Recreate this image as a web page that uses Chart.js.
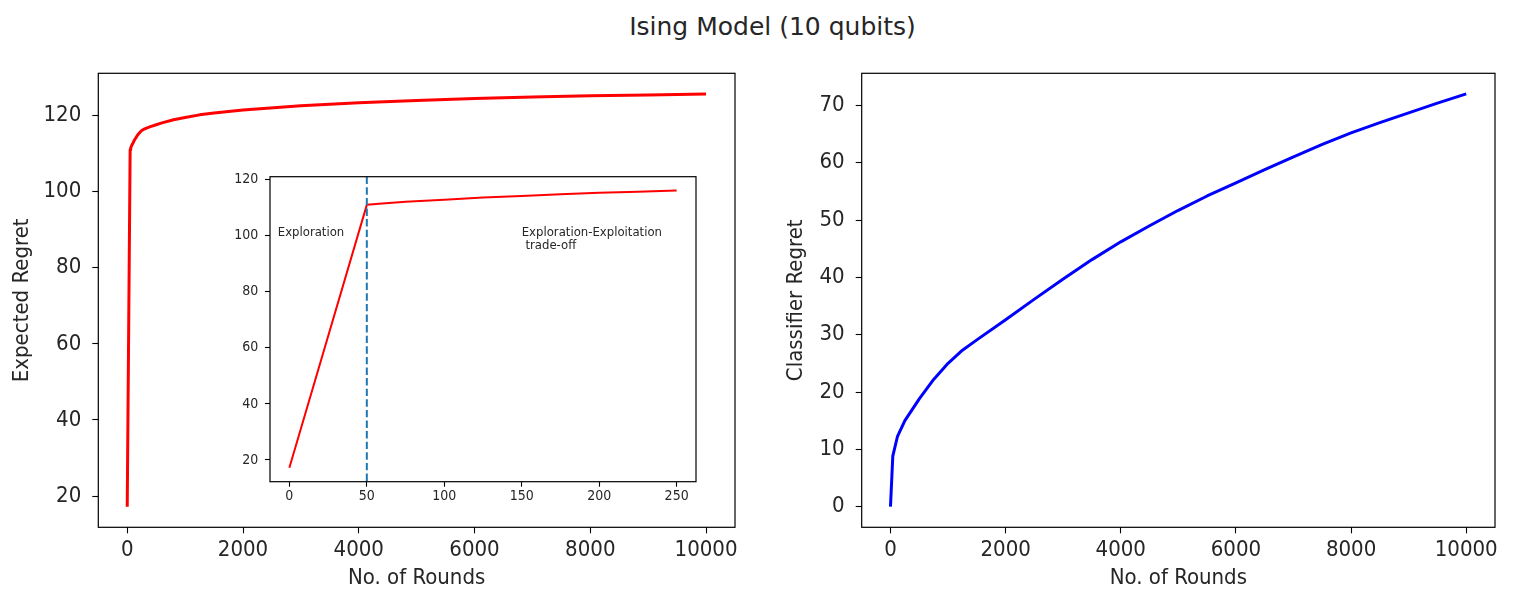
<!DOCTYPE html>
<html>
<head>
<meta charset="utf-8">
<script src="https://cdn.jsdelivr.net/npm/chart.js@4.4.1/dist/chart.umd.min.js"></script>
<style>
  html, body { margin: 0; padding: 0; background: #ffffff; }
  #wrap { position: relative; width: 1515px; height: 606px; overflow: hidden; background: #ffffff; }
  canvas { position: absolute; }
  #title { position: absolute; top: 12px; left: 772.5px; transform: translateX(-50%);
           font-family: "DejaVu Sans"; font-size: 25px; line-height: 30px; color: #262626; white-space: nowrap; }
</style>
</head>
<body>
<div id="wrap">
  <div id="title"></div>
  <canvas id="leftChart" width="760" height="546" style="left:0px;top:60px"></canvas>
  <canvas id="rightChart" width="755" height="546" style="left:760px;top:60px"></canvas>
  <canvas id="insetChart" width="480" height="340" style="left:230px;top:170px"></canvas>
</div>
<script>
// ---------------- data ----------------
const figureTitle = "Ising Model (10 qubits)";

const roundsExpected = [0, 50, 60, 75, 100, 125, 150, 175, 200, 225, 250, 300, 400, 500, 600, 800, 1000, 1250, 1500, 2000, 3000, 4000, 5000, 6000, 7000, 8000, 9000, 10000];
const expectedRegret = [17.2, 111.0, 111.5, 112.1, 112.8, 113.6, 114.2, 114.8, 115.3, 115.7, 116.1, 116.5, 117.1, 117.6, 118.1, 118.9, 119.5, 120.2, 120.7, 121.5, 122.6, 123.4, 124.0, 124.5, 124.9, 125.2, 125.4, 125.7];

const roundsClassifier = [0, 40, 120, 250, 500, 750, 1000, 1250, 1500, 2000, 2500, 3000, 3500, 4000, 4500, 5000, 5500, 6000, 6500, 7000, 7500, 8000, 8500, 9000, 9500, 10000];
const classifierRegret = [0, 8.8, 12.2, 15.0, 18.8, 22.2, 25.0, 27.3, 29.1, 32.6, 36.2, 39.7, 43.1, 46.2, 49.0, 51.7, 54.2, 56.5, 58.8, 61.0, 63.2, 65.2, 67.0, 68.7, 70.4, 72.0];

const xTicksMain = [0, 2000, 4000, 6000, 8000, 10000];
const yTicksExpected = [20, 40, 60, 80, 100, 120];
const yTicksClassifier = [0, 10, 20, 30, 40, 50, 60, 70];
const xTicksInset = [0, 50, 100, 150, 200, 250];
const yTicksInset = [20, 40, 60, 80, 100, 120];

const insetLastRound = 250;
const explorationEnd = 50;
const annotationLines = [["Exploration"], ["Exploration-Exploitation", " trade-off"]];
const annotationX = [-7.5, 150];
const annotationY = [100, 100];

const xLabel = "No. of Rounds";
const yLabelLeft = "Expected Regret";
const yLabelRight = "Classifier Regret";

// ---------------- helpers ----------------
document.getElementById('title').textContent = figureTitle;

const FONT = '"DejaVu Sans Condensed", "DejaVu Sans"';
const TXT = '#262626';

function withMargin(vals, frac) {
  const mn = Math.min(...vals), mx = Math.max(...vals);
  const d = (mx - mn) * frac;
  return [mn - d, mx + d];
}

function axis(range, ticks, o) {
  return {
    type: 'linear',
    min: range[0], max: range[1],
    afterBuildTicks: s => { s.ticks = ticks.map(v => ({ value: v })); },
    afterFit: s => {
      if (o.width != null) s.width = o.width;
      if (o.height != null) s.height = o.height;
      s.paddingLeft = 0; s.paddingRight = 0; s.paddingTop = 0; s.paddingBottom = 0;
    },
    grid: { display: true, drawOnChartArea: false, drawTicks: true, tickLength: o.tl, tickColor: '#000', tickWidth: 1.1 },
    border: { display: false },
    ticks: { color: TXT, font: { family: FONT, size: o.fs }, padding: o.pad, maxRotation: 0, minRotation: 0, autoSkip: false,
             callback: v => String(v) },
    title: { display: !!o.title, text: o.title || '', color: TXT, font: { family: FONT, size: o.tfs || o.fs },
             padding: o.tpad || 0 }
  };
}

const framePlugin = {
  id: 'frame',
  beforeDraw(chart) {
    const a = chart.chartArea, ctx = chart.ctx;
    ctx.save(); ctx.fillStyle = '#ffffff';
    ctx.fillRect(a.left, a.top, a.right - a.left, a.bottom - a.top);
    ctx.restore();
  },
  afterDraw(chart) {
    const a = chart.chartArea, ctx = chart.ctx;
    ctx.save(); ctx.strokeStyle = '#000'; ctx.lineWidth = 1.2;
    ctx.strokeRect(a.left, a.top, a.right - a.left, a.bottom - a.top);
    ctx.restore();
  }
};

function series(xs, ys) { return xs.map((x, i) => ({ x: x, y: ys[i] })); }

const common = {
  responsive: false, animation: false, devicePixelRatio: 1,
  plugins: { legend: { display: false }, tooltip: { enabled: false }, title: { display: false } },
  elements: { point: { radius: 0 }, line: { tension: 0, borderJoinStyle: 'round' } }
};

// ---------------- left chart ----------------
new Chart(document.getElementById('leftChart'), {
  type: 'line',
  data: { datasets: [{ data: series(roundsExpected, expectedRegret), borderColor: '#ff0000', borderWidth: 3, fill: false }] },
  options: Object.assign({}, common, {
    layout: { padding: { left: 0, top: 13.3, right: 25, bottom: 0 } },
    scales: {
      x: axis(withMargin(roundsExpected, 0.05), xTicksMain, { height: 78.7, tl: 6, fs: 22, pad: 4, title: xLabel, tpad: { top: 0, bottom: 14.8 } }),
      y: axis(withMargin(expectedRegret, 0.05), yTicksExpected, { width: 98.3, tl: 6, fs: 22, pad: 11, title: yLabelLeft, tpad: { top: 8.8, bottom: 0 } })
    }
  }),
  plugins: [framePlugin]
});

// ---------------- right chart ----------------
new Chart(document.getElementById('rightChart'), {
  type: 'line',
  data: { datasets: [{ data: series(roundsClassifier, classifierRegret), borderColor: '#0000ff', borderWidth: 3, fill: false }] },
  options: Object.assign({}, common, {
    layout: { padding: { left: 0, top: 13.3, right: 20, bottom: 0 } },
    scales: {
      x: axis(withMargin(roundsClassifier, 0.05), xTicksMain, { height: 78.7, tl: 6, fs: 22, pad: 4, title: xLabel, tpad: { top: 0, bottom: 14.8 } }),
      y: axis(withMargin(classifierRegret, 0.05), yTicksClassifier, { width: 101.7, tl: 6, fs: 22, pad: 11, title: yLabelRight, tpad: { top: 23.3, bottom: 0 } })
    }
  }),
  plugins: [framePlugin]
});

// ---------------- inset chart ----------------
const insetX = roundsExpected.filter(x => x <= insetLastRound);
const insetY = expectedRegret.slice(0, insetX.length);

const insetExtras = {
  id: 'insetExtras',
  afterDatasetsDraw(chart) {
    const ctx = chart.ctx, a = chart.chartArea, xs = chart.scales.x;
    const px = xs.getPixelForValue(explorationEnd);
    ctx.save();
    ctx.strokeStyle = '#1f77b4'; ctx.lineWidth = 2; ctx.setLineDash([7.4, 3.2]);
    ctx.beginPath(); ctx.moveTo(px, a.top); ctx.lineTo(px, a.bottom); ctx.stroke();
    ctx.restore();
  },
  afterDraw(chart) {
    const ctx = chart.ctx, xs = chart.scales.x, ys = chart.scales.y;
    ctx.save();
    ctx.fillStyle = TXT; ctx.font = '13px ' + FONT; ctx.textAlign = 'left'; ctx.textBaseline = 'alphabetic';
    annotationLines.forEach((lines, i) => {
      const px = xs.getPixelForValue(annotationX[i]);
      const py = ys.getPixelForValue(annotationY[i]);
      lines.forEach((t, j) => ctx.fillText(t, px, py + j * 13.7));
    });
    ctx.restore();
  }
};

new Chart(document.getElementById('insetChart'), {
  type: 'line',
  data: { datasets: [{ data: series(insetX, insetY), borderColor: '#ff0000', borderWidth: 2, fill: false }] },
  options: Object.assign({}, common, {
    layout: { padding: { left: 0, top: 6.7, right: 14, bottom: 0 } },
    scales: {
      x: axis(withMargin(insetX, 0.05), xTicksInset, { height: 28.3, tl: 5, fs: 14, pad: 1.6 }),
      y: axis(withMargin(insetY, 0.05), yTicksInset, { width: 40, tl: 5, fs: 14, pad: 6.7 })
    }
  }),
  plugins: [framePlugin, insetExtras]
});
</script>
</body>
</html>
